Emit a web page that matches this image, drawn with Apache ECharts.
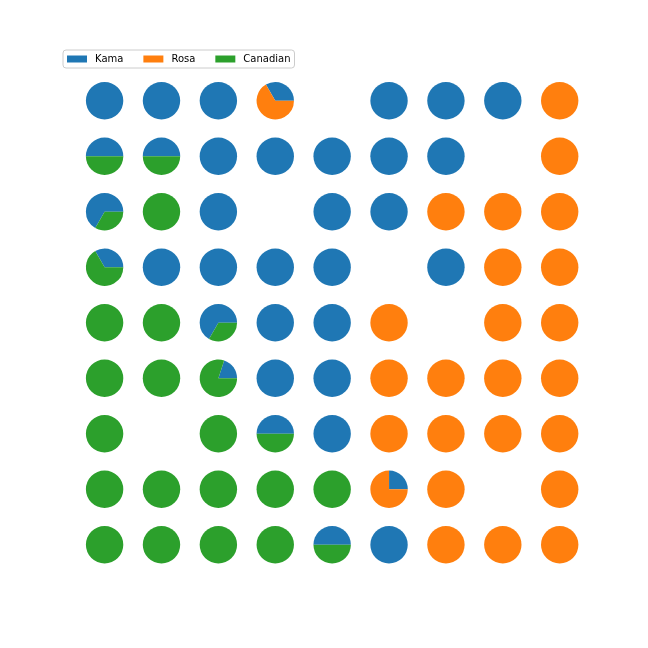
<!DOCTYPE html>
<html>
<head>
<meta charset="utf-8">
<script src="https://cdn.jsdelivr.net/npm/echarts@6/dist/echarts.min.js"></script>
<style>html,body{margin:0;padding:0;background:#fff;}#c{width:648px;height:648px;}</style>
</head>
<body>
<div id="c"></div>
<script>
// Classes (legend order = wedge order, counter-clockwise from 3 o'clock)
var categories = ['Kama', 'Rosa', 'Canadian'];
// Fraction of each class per SOM cell, rows top-to-bottom, columns left-to-right (0 = none)
var kama = [
  [1, 1, 1, 1/3, 0, 1, 1, 1, 0],
  [0.5, 0.5, 1, 1, 1, 1, 1, 0, 0],
  [2/3, 0, 1, 0, 1, 1, 0, 0, 0],
  [1/3, 1, 1, 1, 1, 0, 1, 0, 0],
  [0, 0, 2/3, 1, 1, 0, 0, 0, 0],
  [0, 0, 0.2, 1, 1, 0, 0, 0, 0],
  [0, 0, 0, 0.5, 1, 0, 0, 0, 0],
  [0, 0, 0, 0, 0, 0.25, 0, 0, 0],
  [0, 0, 0, 0, 0.5, 1, 0, 0, 0]
];
var rosa = [
  [0, 0, 0, 2/3, 0, 0, 0, 0, 1],
  [0, 0, 0, 0, 0, 0, 0, 0, 1],
  [0, 0, 0, 0, 0, 0, 1, 1, 1],
  [0, 0, 0, 0, 0, 0, 0, 1, 1],
  [0, 0, 0, 0, 0, 1, 0, 1, 1],
  [0, 0, 0, 0, 0, 1, 1, 1, 1],
  [0, 0, 0, 0, 0, 1, 1, 1, 1],
  [0, 0, 0, 0, 0, 0.75, 1, 0, 1],
  [0, 0, 0, 0, 0, 0, 1, 1, 1]
];
var canadian = [
  [0, 0, 0, 0, 0, 0, 0, 0, 0],
  [0.5, 0.5, 0, 0, 0, 0, 0, 0, 0],
  [1/3, 1, 0, 0, 0, 0, 0, 0, 0],
  [2/3, 0, 0, 0, 0, 0, 0, 0, 0],
  [1, 1, 1/3, 0, 0, 0, 0, 0, 0],
  [1, 1, 0.8, 0, 0, 0, 0, 0, 0],
  [1, 0, 1, 0.5, 0, 0, 0, 0, 0],
  [1, 1, 1, 1, 1, 0, 0, 0, 0],
  [1, 1, 1, 1, 0.5, 0, 0, 0, 0]
];
var colorsList = ['#1f77b4', '#ff7f0e', '#2ca02c'];
var PIE_R = 18.7;

var grids = [kama, rosa, canadian];
var seriesData = [[], [], []];
for (var r = 0; r < 9; r++) {
  for (var c = 0; c < 9; c++) {
    var start = 0;
    for (var k = 0; k < 3; k++) {
      var f = grids[k][r][c];
      if (f > 0) {
        seriesData[k].push([c, r, start, f]);
        start += f;
      }
    }
  }
}

function renderItem(params, api) {
  var p = api.coord([api.value(0), api.value(1)]);
  var s = api.value(2), f = api.value(3);
  var color = api.visual('color');
  if (f >= 0.9999) {
    return { type: 'circle', shape: { cx: p[0], cy: p[1], r: PIE_R }, style: { fill: color } };
  }
  return {
    type: 'sector',
    shape: {
      cx: p[0], cy: p[1], r: PIE_R, r0: 0,
      startAngle: -s * 2 * Math.PI,
      endAngle: -(s + f) * 2 * Math.PI,
      clockwise: false
    },
    style: { fill: color }
  };
}

var chart = echarts.init(document.getElementById('c'), null, { renderer: 'canvas' });
chart.setOption({
  animation: false,
  backgroundColor: '#ffffff',
  color: colorsList,
  legend: {
    data: categories,
    left: 63, top: 50,
    orient: 'horizontal',
    itemWidth: 20, itemHeight: 7,
    itemGap: 20,
    padding: [4, 4, 4, 4],
    borderColor: '#cccccc', borderWidth: 1, borderRadius: 3,
    icon: 'rect',
    textStyle: { fontFamily: 'DejaVu Sans', fontSize: 10, color: '#000', padding: [0, 0, 0, 3] }
  },
  grid: { left: 76.15, top: 73, width: 512, height: 499.5 },
  xAxis: { type: 'value', min: -0.5, max: 8.5, show: false },
  yAxis: { type: 'value', min: -0.5, max: 8.5, inverse: true, show: false },
  series: categories.map(function (name, k) {
    return {
      name: name,
      type: 'custom',
      renderItem: renderItem,
      data: seriesData[k],
      encode: { x: 0, y: 1 }
    };
  })
});
</script>
</body>
</html>
